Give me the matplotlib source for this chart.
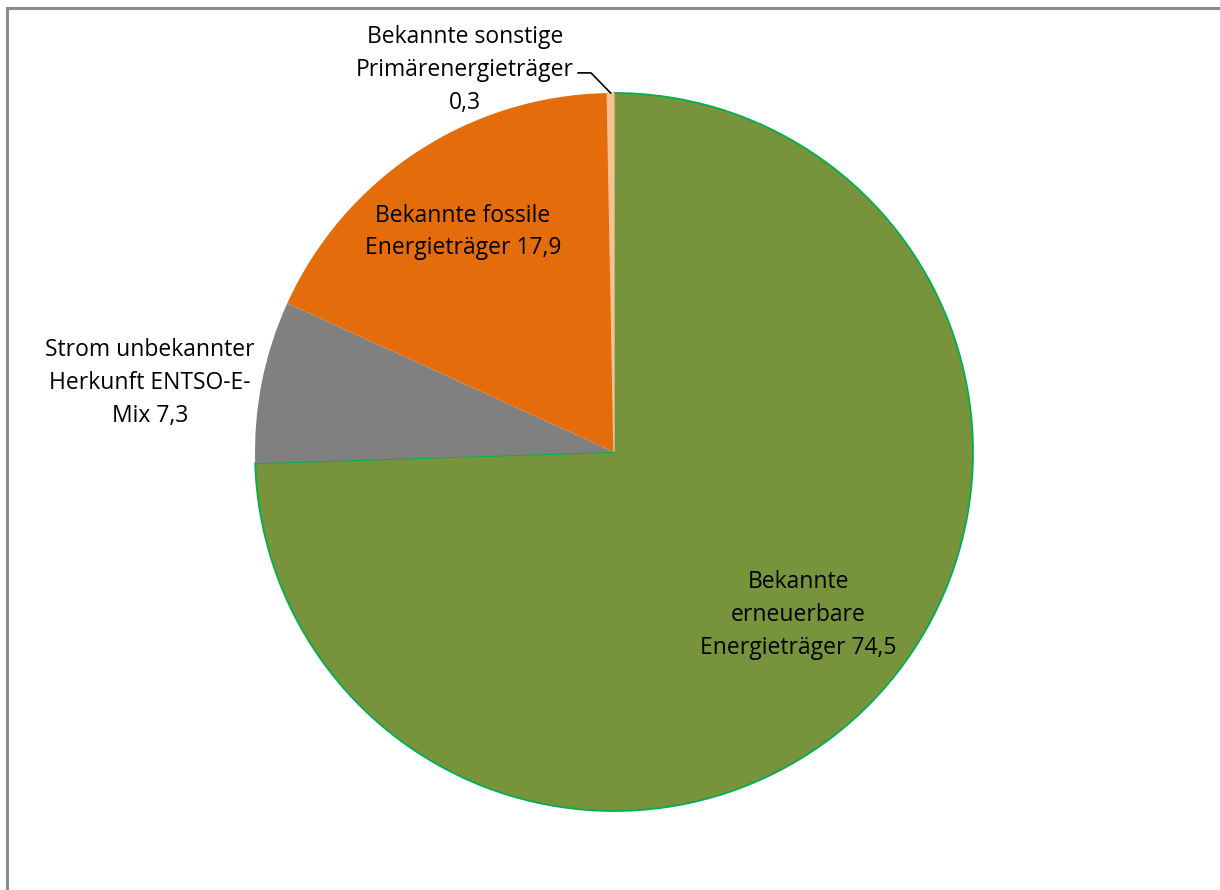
import matplotlib
matplotlib.use("Agg")
import matplotlib.pyplot as plt
import numpy as np
from matplotlib.patches import Rectangle

# Anteile in Prozent, im Uhrzeigersinn ab 12 Uhr
labels = ["Bekannte\nerneuerbare\nEnergieträger 74,5",
          "Strom unbekannter\nHerkunft ENTSO-E-\nMix 7,3",
          "Bekannte fossile\nEnergieträger 17,9",
          "Bekannte sonstige\nPrimärenergieträger\n0,3"]
werte = [74.5, 7.3, 17.9, 0.3]
farben = ["#77933C", "#808080", "#E46C0A", "#FAC090"]

plt.rcParams['font.family'] = ['Open Sans', 'DejaVu Sans']

fig = plt.figure(figsize=(12.2, 8.9), dpi=100)
fig.patches.append(Rectangle((7/1220, -0.1), 1.2, (890-8)/890 + 0.1,
                             transform=fig.transFigure, fill=False,
                             edgecolor="#8c8c8c", linewidth=2.2))

ax = fig.add_axes([255/1220, 79/890, 718/1220, 718/890])
wedges, _ = ax.pie(werte, colors=farben, startangle=90, counterclock=False,
                   radius=1, wedgeprops=dict(linewidth=0))
wedges[0].set_edgecolor("#00B050")
wedges[0].set_linewidth(1.3)
wedges[3].set_edgecolor("#FAC090")
wedges[3].set_linewidth(1.0)
ax.set_xlim(-1, 1)
ax.set_ylim(-1, 1)
ax.set_aspect("equal")
ax.axis("off")

# Beschriftungen
pos = [(0.513, -0.454), (-1.292, 0.192), (-0.421, 0.613), (-0.415, 1.064)]
for lab, (x, y) in zip(labels, pos):
    ax.text(x, y, lab, ha="center", va="center", fontsize=16.5,
            linespacing=1.48, color="black")

# Führungslinie für den kleinen Anteil
w = wedges[3]
mitte = np.deg2rad((w.theta1 + w.theta2) / 2)
ax.plot([-0.100, -0.064, np.cos(mitte)], [1.056, 1.056, np.sin(mitte)],
        color="black", linewidth=1.2, clip_on=False)

fig.savefig("out.png", dpi=100)
